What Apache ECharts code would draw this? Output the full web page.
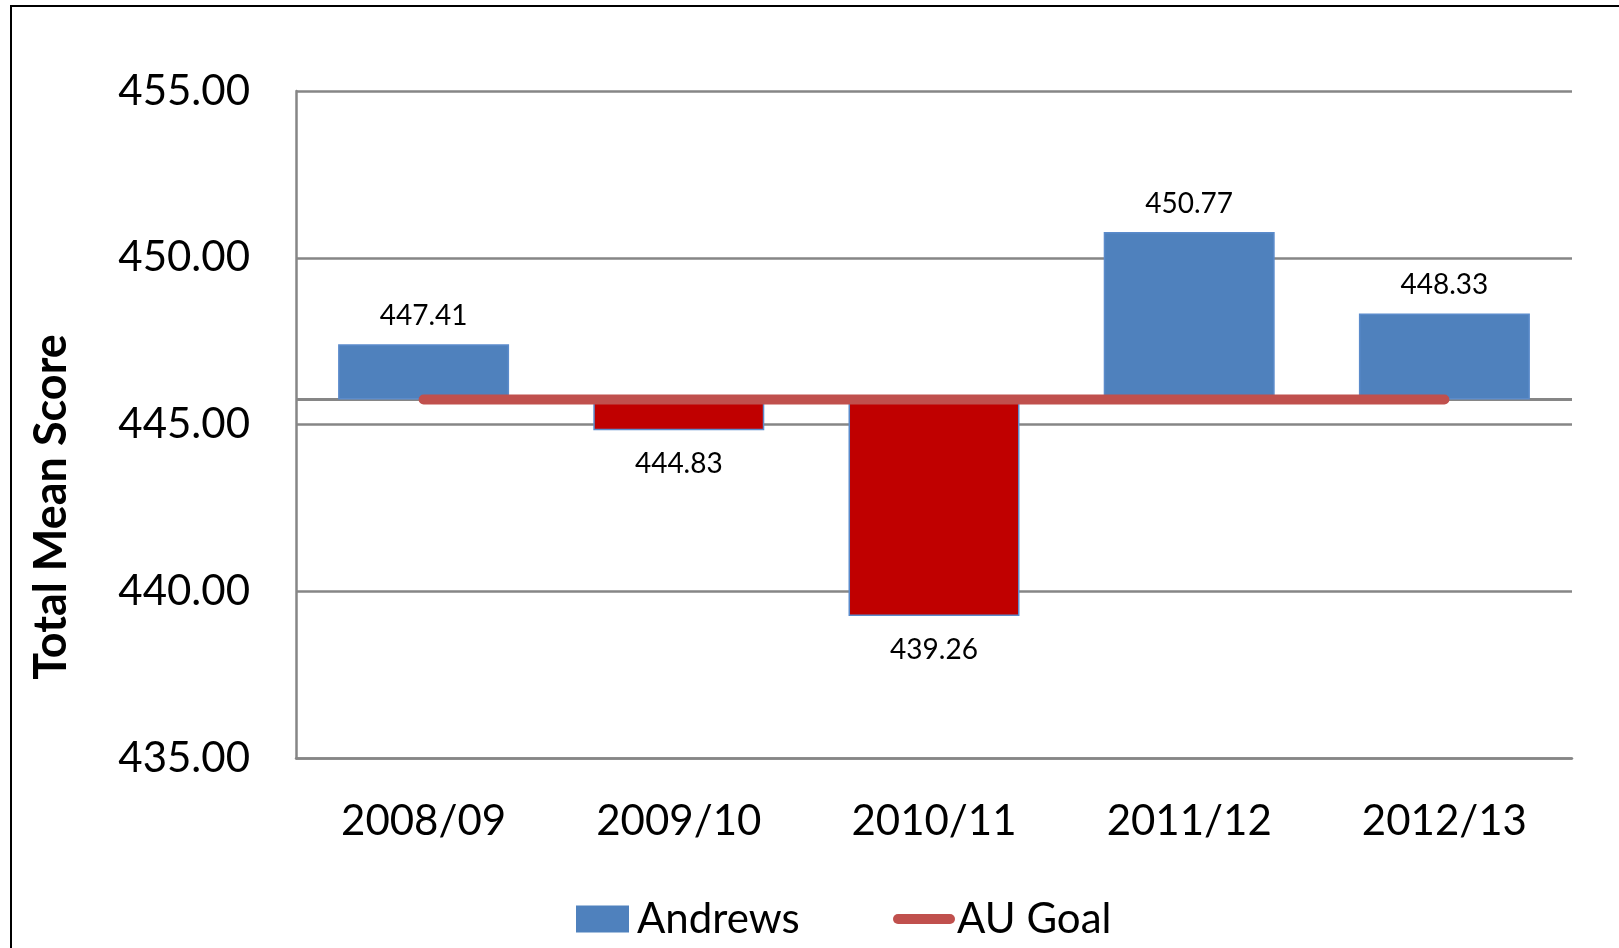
<!DOCTYPE html>
<html>
<head>
<meta charset="utf-8">
<script src="https://cdn.jsdelivr.net/npm/echarts@6/dist/echarts.min.js"></script>
<style>
html,body{margin:0;padding:0;background:#fff;}
#chart{width:1619px;height:948px;}
</style>
</head>
<body>
<div id="chart"></div>
<script>
var categories = ['2008/09', '2009/10', '2010/11', '2011/12', '2012/13'];
var andrews = [447.41, 444.83, 439.26, 450.77, 448.33];
var goalValue = 445.75;
var goal = [goalValue, goalValue, goalValue, goalValue, goalValue];
var yTicks = { min: 435, max: 455, interval: 5 };

var BLUE = '#4F81BD', RED = '#C00000', GOALRED = '#C0504D', GRID = '#868686';
var FONT = 'Lato';

var base = andrews.map(function (v) { return Math.min(v, goalValue); });
var delta = andrews.map(function (v) {
  var up = v >= goalValue;
  return {
    value: Math.abs(v - goalValue),
    itemStyle: { color: up ? BLUE : RED },
    label: { position: up ? 'top' : 'bottom', distance: up ? 14 : 20 }
  };
});

var chart = echarts.init(document.getElementById('chart'));
chart.setOption({
  animation: false,
  backgroundColor: '#fff',
  grid: { left: 296, right: 47, top: 91, bottom: 190, containLabel: false, outerBoundsMode: 'none' },
  graphic: [
    { type: 'rect', shape: { x: 11, y: 6, width: 1700, height: 1100 },
      style: { fill: 'none', stroke: '#000', lineWidth: 2 }, silent: true, z: 100 },
    { type: 'text', x: 51, y: 507, rotation: Math.PI / 2,
      style: { text: 'Total Mean Score', font: 'bold 45px Lato', fill: '#000',
               align: 'center', verticalAlign: 'middle' } }
  ],
  legend: [
    { data: ['Andrews'], left: 576, top: 898, padding: 0, itemWidth: 53, itemHeight: 27,
      icon: 'rect', textStyle: { fontFamily: FONT, fontSize: 42, color: '#000', lineHeight: 42, padding: [0, 0, 0, 3] },
      itemStyle: { color: BLUE, borderWidth: 0 } },
    { data: ['AU Goal'], left: 893, top: 898, padding: 0, itemWidth: 62, itemHeight: 10,
      icon: 'path://M5,0 L57,0 A5,5 0 0 1 57,10 L5,10 A5,5 0 0 1 5,0 Z',
      textStyle: { fontFamily: FONT, fontSize: 42, color: '#000', lineHeight: 42, padding: [0, 0, 0, -3] },
      itemStyle: { color: GOALRED, borderWidth: 0 } }
  ],
  xAxis: {
    type: 'category',
    data: categories,
    axisLine: { show: true, lineStyle: { color: GRID, width: 2.5 } },
    axisTick: { show: false },
    axisLabel: { fontFamily: FONT, fontSize: 42, color: '#000', margin: 42 },
    splitLine: { show: false }
  },
  yAxis: {
    type: 'value',
    min: yTicks.min, max: yTicks.max, interval: yTicks.interval,
    axisLine: { show: true, lineStyle: { color: GRID, width: 2.5 } },
    axisTick: { show: false },
    axisLabel: { fontFamily: FONT, fontSize: 42, color: '#000', margin: 46,
                 formatter: function (v) { return v.toFixed(2); } },
    splitLine: { show: true, lineStyle: { color: GRID, width: 2.5 } }
  },
  series: [
    { name: '_base', type: 'bar', stack: 's', data: base, barCategoryGap: '33%',
      itemStyle: { color: 'rgba(0,0,0,0)' }, silent: true, label: { show: false }, z: 1 },
    { name: 'Andrews', type: 'bar', stack: 's', data: delta, barCategoryGap: '33%',
      itemStyle: { borderColor: '#5B8BCB', borderWidth: 1.5 },
      label: { show: true, fontFamily: FONT, fontSize: 28, color: '#000',
               formatter: function (p) { return andrews[p.dataIndex].toFixed(2); } },
      markLine: { silent: true, symbol: 'none', label: { show: false },
                  lineStyle: { color: GRID, width: 3, type: 'solid' },
                  data: [{ yAxis: goalValue }], z: 1 },
      z: 2 },
    { name: 'AU Goal', type: 'line', data: goal, symbol: 'none', z: 5,
      lineStyle: { color: GOALRED, width: 10, cap: 'round' },
      itemStyle: { color: GOALRED } }
  ]
});
</script>
</body>
</html>
